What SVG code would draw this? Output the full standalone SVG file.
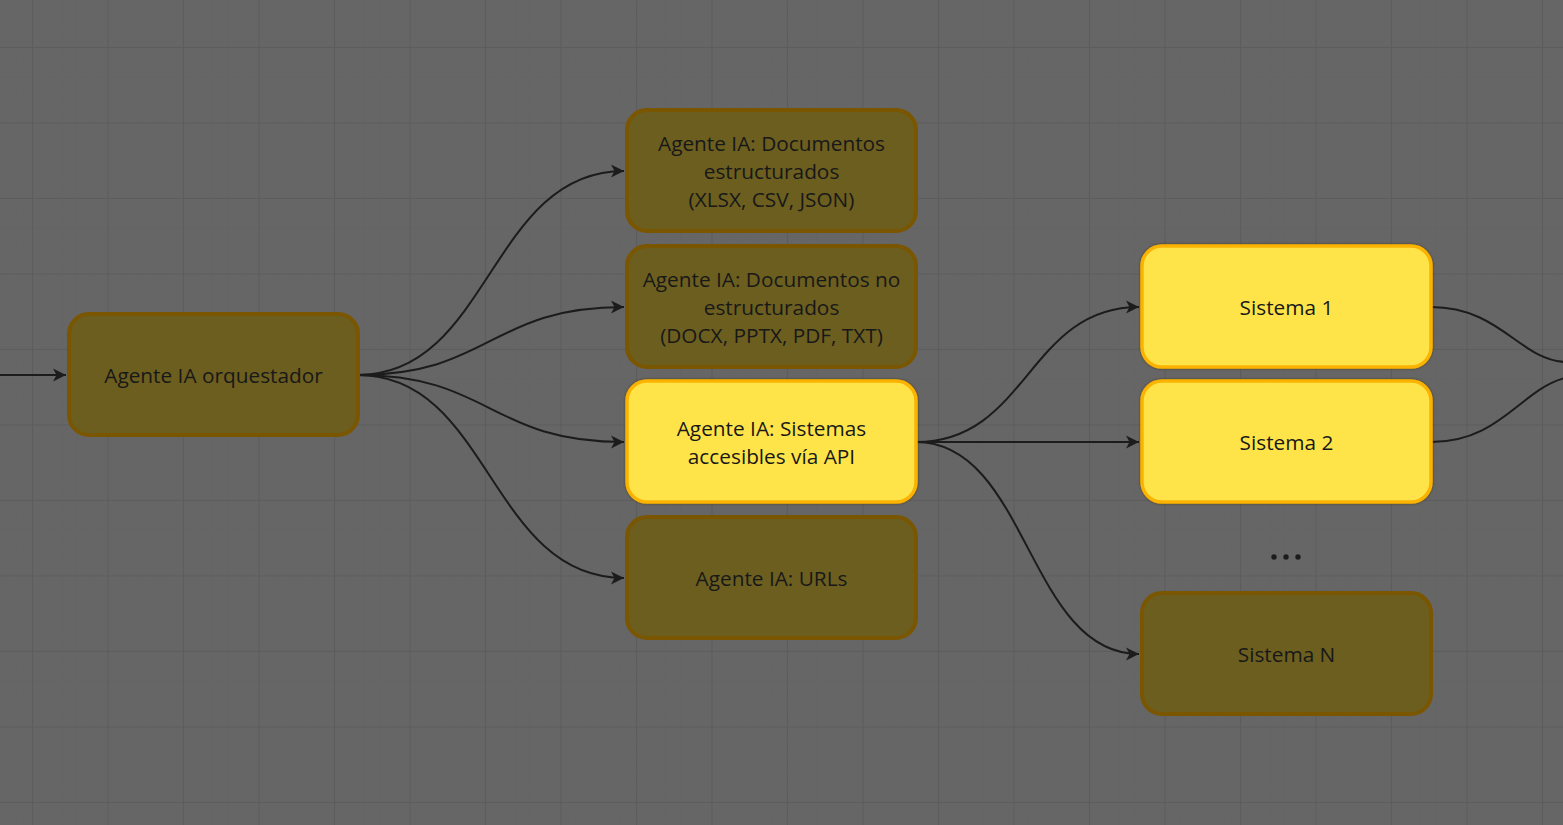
<svg xmlns="http://www.w3.org/2000/svg" width="1563" height="825" viewBox="0 0 1563 825">
  <defs>
    <pattern id="minor" width="15.1" height="15.1" patternUnits="userSpaceOnUse" x="2" y="2">
      <path d="M15.1 0 V15.1 M0 15.1 H15.1" stroke="#636363" stroke-width="1" fill="none"/>
    </pattern>
    <pattern id="major" width="75.5" height="75.5" patternUnits="userSpaceOnUse" x="32" y="47">
      <path d="M0.5 0 V75.5 M0 0.5 H75.5" stroke="#5d5d5d" stroke-width="1.2" fill="none"/>
    </pattern>
    <marker id="arr" markerWidth="16" markerHeight="14" refX="13" refY="7" orient="auto" markerUnits="userSpaceOnUse">
      <path d="M0,0.5 L13,7 L0,13.5 L3.5,7 Z" fill="#1c1c1c"/>
    </marker>
    <filter id="sh" x="-5%" y="-5%" width="110%" height="110%">
      <feDropShadow dx="0" dy="0" stdDeviation="0.8" flood-color="#3a3000" flood-opacity="0.8"/>
    </filter>
  </defs>
  <style>
    .dim rect { fill: #6b5e1f; stroke: #7a5600; stroke-width: 4; }
    .lit rect { fill: #fee44a; stroke: #fcb300; stroke-width: 3.5; filter: url(#sh); }
    text { font-family: "Open Sans", "Noto Sans", "Liberation Sans", sans-serif; font-size: 20.8px; fill: #181818; text-anchor: middle; }
    .edges path { fill: none; stroke: #1c1c1c; stroke-width: 2; }
  </style>

  <rect width="1563" height="825" fill="#666666"/>
  <rect width="1563" height="825" fill="url(#minor)"/>
  <rect width="1563" height="825" fill="url(#major)"/>

  <g class="edges">
    <path d="M0,375 H66" marker-end="url(#arr)"/>
    <path d="M358,375 C490,375 490,171 624,171" marker-end="url(#arr)"/>
    <path d="M358,375 C490,375 490,307 624,307" marker-end="url(#arr)"/>
    <path d="M358,375 C490,375 490,442 624,442" marker-end="url(#arr)"/>
    <path d="M358,375 C490,375 490,578 624,578" marker-end="url(#arr)"/>
    <path d="M916,442 C1028,442 1028,307 1139,307" marker-end="url(#arr)"/>
    <path d="M916,442 H1139" marker-end="url(#arr)"/>
    <path d="M916,442 C1028,442 1028,654 1139,654" marker-end="url(#arr)"/>
    <path d="M1431,307 C1500,307 1520,360 1565,362"/>
    <path d="M1431,442 C1500,442 1520,390 1565,378"/>
  </g>

  <g id="orquestador" class="dim">
    <rect x="69" y="314" width="289" height="121" rx="20"/>
    <text x="213.5" y="383">Agente IA orquestador</text>
  </g>
  <g id="doc-estructurados" class="dim">
    <rect x="627" y="110" width="289" height="121" rx="20"/>
    <text x="771.5" y="151">Agente IA: Documentos</text>
    <text x="771.5" y="179">estructurados</text>
    <text x="771.5" y="207">(XLSX, CSV, JSON)</text>
  </g>
  <g id="doc-no-estructurados" class="dim">
    <rect x="627" y="246" width="289" height="121" rx="20"/>
    <text x="771.5" y="287">Agente IA: Documentos no</text>
    <text x="771.5" y="315">estructurados</text>
    <text x="771.5" y="343">(DOCX, PPTX, PDF, TXT)</text>
  </g>
  <g id="sistemas-api" class="lit">
    <rect x="627" y="381" width="289" height="121" rx="20"/>
    <text x="771.5" y="436">Agente IA: Sistemas</text>
    <text x="771.5" y="464">accesibles vía API</text>
  </g>
  <g id="urls" class="dim">
    <rect x="627" y="517" width="289" height="121" rx="20"/>
    <text x="771.5" y="586">Agente IA: URLs</text>
  </g>
  <g id="sistema-1" class="lit">
    <rect x="1142" y="246" width="289" height="121" rx="20"/>
    <text x="1286.5" y="315">Sistema 1</text>
  </g>
  <g id="sistema-2" class="lit">
    <rect x="1142" y="381" width="289" height="121" rx="20"/>
    <text x="1286.5" y="450">Sistema 2</text>
  </g>
  <g id="ellipsis">
    <circle cx="1274" cy="557" r="2.7" fill="#1c1c1c"/>
    <circle cx="1286" cy="557" r="2.7" fill="#1c1c1c"/>
    <circle cx="1298" cy="557" r="2.7" fill="#1c1c1c"/>
  </g>
  <g id="sistema-n" class="dim">
    <rect x="1142" y="593" width="289" height="121" rx="20"/>
    <text x="1286.5" y="662">Sistema N</text>
  </g>
</svg>
